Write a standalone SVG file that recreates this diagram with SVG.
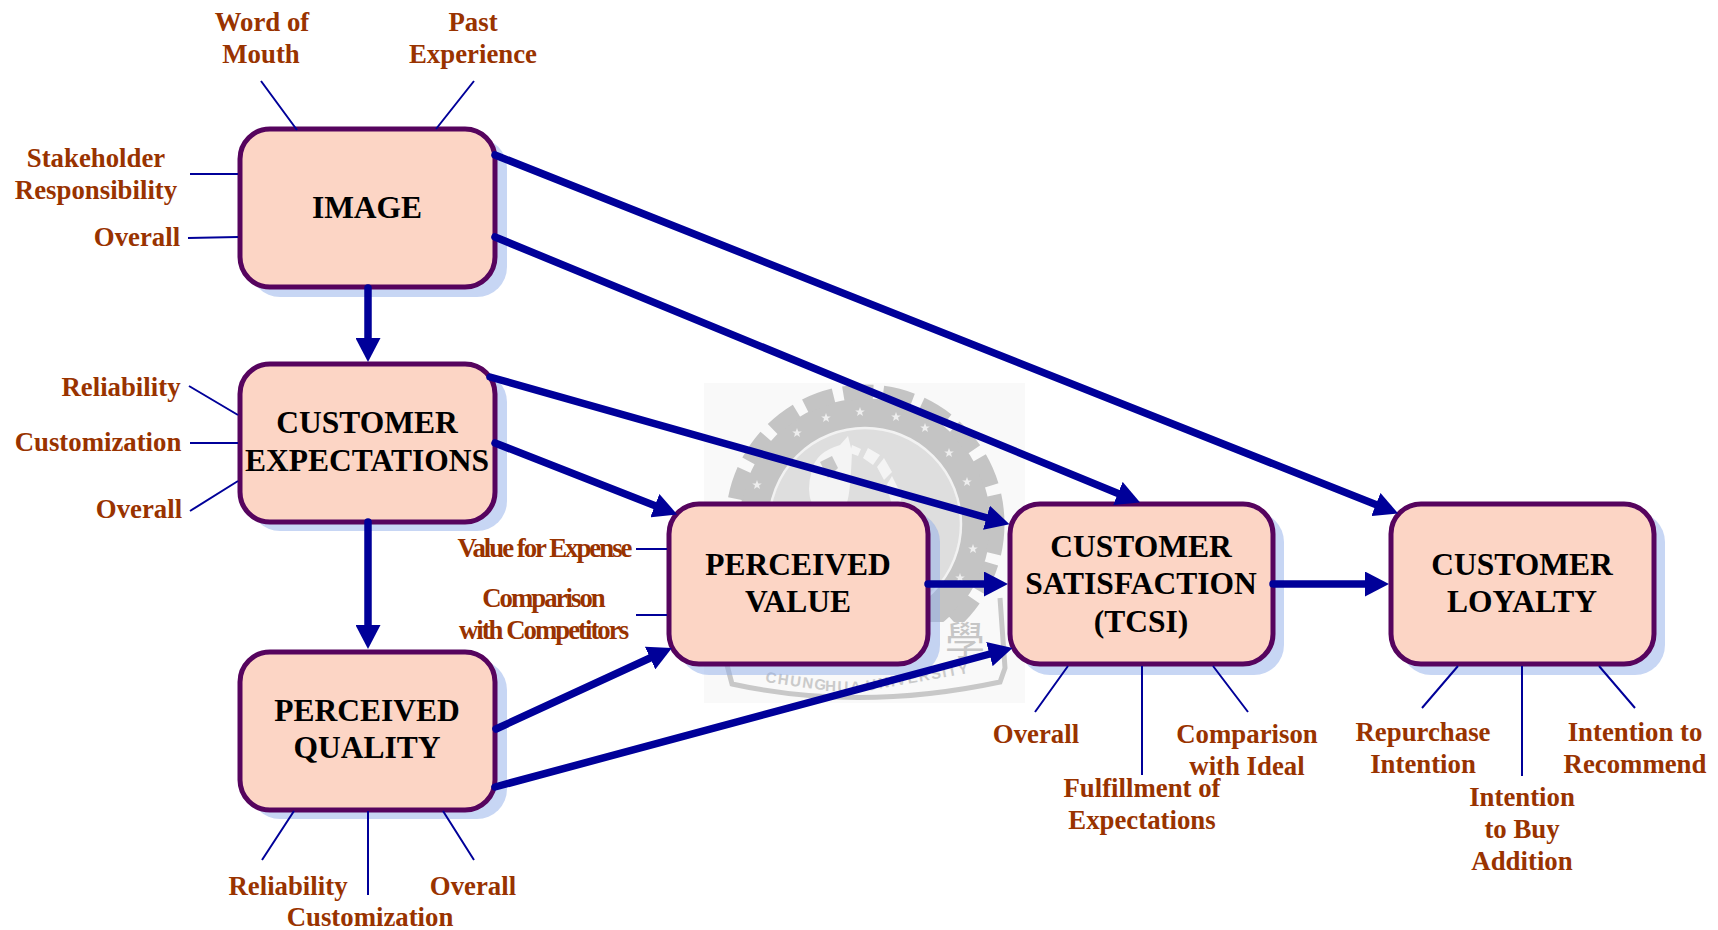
<svg xmlns="http://www.w3.org/2000/svg" width="1718" height="930" viewBox="0 0 1718 930">
<defs>
<marker id="ah" markerUnits="userSpaceOnUse" markerWidth="25" markerHeight="25" refX="12" refY="12.5" orient="auto"><path d="M0 0L24 12.5L0 25Z" fill="#000099"/></marker>
<path id="star" d="M0 -5L1.3 -1.6L4.8 -1.6L2 .6L3 4.1L0 2.1L-3 4.1L-2 .6L-4.8 -1.6L-1.3 -1.6Z" fill="#eeeeee"/>
</defs>
<style>
.box{fill:#fcd5c5;stroke:#56045e;stroke-width:5}
.sh{fill:#8fadea;fill-opacity:.5}
.n{font:bold 31.5px "Liberation Serif",serif;fill:#000;text-anchor:middle}
.l{font:bold 26.8px "Liberation Serif",serif;fill:#993300;text-anchor:middle}
.k{letter-spacing:-2px}
.c{stroke:#000099;stroke-width:7.5;stroke-linecap:round;fill:none}
.a{marker-end:url(#ah)}
.t{stroke:#000099;stroke-width:2;fill:none}
.wt{font-family:"Liberation Sans",sans-serif;font-size:15px;font-weight:bold;fill:#cacaca;letter-spacing:1.5px}
</style>
<g id="watermark">
<rect x="704" y="383" width="321" height="320" fill="#f9f9f9"/>
<circle cx="865" cy="524" r="96" fill="#dedede"/>
<circle cx="865" cy="524" r="111" fill="none" stroke="#c4c4c4" stroke-width="29"/>
<circle cx="865" cy="524" r="132" fill="none" stroke="#c4c4c4" stroke-width="15" stroke-dasharray="30 10"/>
<circle cx="865" cy="524" r="96" fill="none" stroke="#f2f2f2" stroke-width="2.5"/>
<path d="M812 470Q816 452 840 445L848 436L852 452Q850 500 846 504H812Q806 490 812 470Z" fill="#f4f4f4"/>
<path d="M820 462L832 456L838 468L828 478Z" fill="#c8c8c8"/>
<path d="M852 445L861 449L858 456L850 453ZM868 448L880 455L873 465L863 458ZM884 458L892 472L884 480L877 467ZM892 476L902 496L900 504H892L886 486Z" fill="#f4f4f4"/>
<use href="#star" x="757" y="485"/><use href="#star" x="797" y="433"/><use href="#star" x="826" y="418"/><use href="#star" x="860" y="412"/><use href="#star" x="896" y="417"/><use href="#star" x="925" y="428"/><use href="#star" x="949" y="453"/><use href="#star" x="967" y="482"/><use href="#star" x="973" y="549"/><use href="#star" x="960" y="578"/>
<path d="M727 622H1000L1005 668L1000 682Q860 712 728 682L727 668Z" fill="#f9f9f9"/>
<path d="M1000 598L1005 668L1000 682Q860 712 732 684L727 665" fill="none" stroke="#c8c8c8" stroke-width="5"/>
<text x="965" y="655" font-family="'Noto Sans CJK TC',sans-serif" font-size="40" fill="#c6c6c6" text-anchor="middle">學</text>
<text class="wt" x="765" y="682" transform="rotate(8 765 682)">CHUNG</text>
<text class="wt" x="825" y="691" transform="rotate(2 825 691)">HUA</text>
<text class="wt" x="867" y="691" transform="rotate(-10 867 691)">UNIVERSITY</text>
</g>
<g id="node-image"><rect class="sh" x="250" y="138" width="257" height="159" rx="30"/><rect class="box" x="240" y="129" width="255" height="158" rx="30"/><text class="n" x="367" y="218">IMAGE</text></g>
<g id="node-expectations"><rect class="sh" x="250" y="372" width="257" height="159" rx="30"/><rect class="box" x="240" y="364" width="255" height="158" rx="30"/><text class="n" x="367" y="433">CUSTOMER</text><text class="n" x="367" y="471">EXPECTATIONS</text></g>
<g id="node-quality"><rect class="sh" x="250" y="660" width="257" height="159" rx="30"/><rect class="box" x="240" y="652" width="255" height="158" rx="30"/><text class="n" x="367" y="721">PERCEIVED</text><text class="n" x="367" y="758">QUALITY</text></g>
<g id="node-value"><rect class="sh" x="679" y="512" width="261" height="163" rx="30"/><rect class="box" x="669" y="504" width="259" height="160" rx="30"/><text class="n" x="798" y="575">PERCEIVED</text><text class="n" x="798" y="612">VALUE</text></g>
<g id="node-satisfaction"><rect class="sh" x="1020" y="512" width="264" height="163" rx="30"/><rect class="box" x="1010" y="504" width="263" height="160" rx="30"/><text class="n" x="1141" y="557">CUSTOMER</text><text class="n" x="1141" y="594">SATISFACTION</text><text class="n" x="1141" y="632">(TCSI)</text></g>
<g id="node-loyalty"><rect class="sh" x="1401" y="512" width="264" height="163" rx="30"/><rect class="box" x="1391" y="504" width="263" height="160" rx="30"/><text class="n" x="1522" y="575">CUSTOMER</text><text class="n" x="1522" y="612">LOYALTY</text></g>
<g id="connectors">
<path class="t" d="M261 81L297 130M474 81L436 129M190 174L238 174M188 238L238 237M189 386L238 415M190 443L238 443M190 511L238 481M636 549L667 549M636 615L667 615M294 811L262 860M368 811V895M443 811L474 860M1068 666L1035 712M1142 666V775M1213 666L1248 712M1458 666L1422 708M1522 666V776M1599 666L1635 708"/>
<path class="c a" d="M368 288V350"/>
<path class="c a" d="M368 522V637"/>
<path class="c a" d="M495 155L1387 509"/>
<path class="c a" d="M495 237L1129 498"/>
<path class="c a" d="M490 377L998 521"/>
<path class="c a" d="M495 443L666 510"/>
<path class="c a" d="M496 729L661 653"/>
<path class="c a" d="M495 787L1001 651"/>
<path class="c a" d="M928 584H996"/>
<path class="c a" d="M1273 584H1377"/>
</g>
<g id="labels">
<text class="l" x="262" y="31">Word of</text><text class="l" x="261" y="63">Mouth</text>
<text class="l" x="473" y="31">Past</text><text class="l" x="473" y="63">Experience</text>
<text class="l" x="96" y="167">Stakeholder</text><text class="l" x="96" y="199">Responsibility</text>
<text class="l" x="137" y="246">Overall</text>
<text class="l" x="121" y="396">Reliability</text><text class="l" x="98" y="451">Customization</text><text class="l" x="139" y="518">Overall</text>
<text class="l k" x="544" y="557">Value for Expense</text>
<text class="l k" x="543" y="607">Comparison</text><text class="l k" x="543" y="639">with Competitors</text>
<text class="l" x="288" y="895">Reliability</text><text class="l" x="473" y="895">Overall</text><text class="l" x="370" y="926">Customization</text>
<text class="l" x="1036" y="743">Overall</text><text class="l" x="1247" y="743">Comparison</text><text class="l" x="1247" y="775">with Ideal</text>
<text class="l" x="1142" y="797">Fulfillment of</text><text class="l" x="1142" y="829">Expectations</text>
<text class="l" x="1423" y="741">Repurchase</text><text class="l" x="1423" y="773">Intention</text>
<text class="l" x="1635" y="741">Intention to</text><text class="l" x="1635" y="773">Recommend</text>
<text class="l" x="1522" y="806">Intention</text><text class="l" x="1522" y="838">to Buy</text><text class="l" x="1522" y="870">Addition</text>
</g>
</svg>
